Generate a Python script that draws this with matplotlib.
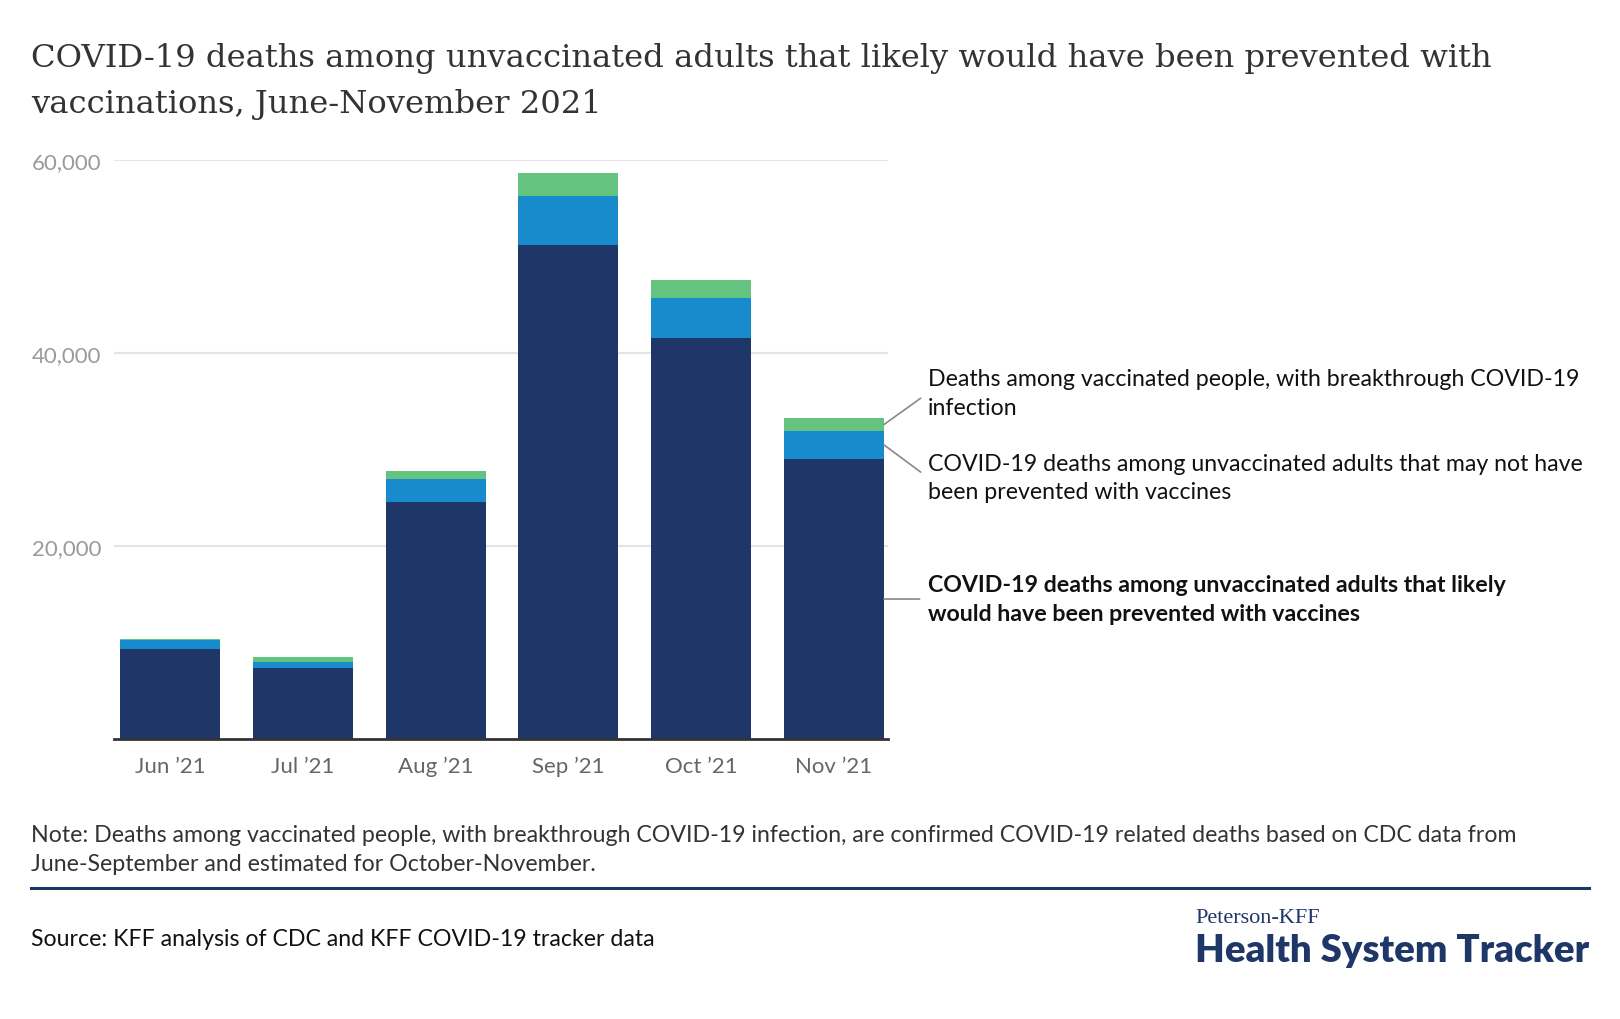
"""KFF chart: COVID-19 deaths among unvaccinated adults likely preventable with vaccination."""

import matplotlib.pyplot as plt
import numpy as np

months = ["Jun \u201921", "Jul \u201921", "Aug \u201921", "Sep \u201921", "Oct \u201921", "Nov \u201921"]
likely_prevented = [9330, 7370, 24560, 51160, 41540, 29020]
may_not_prevented = [980, 610, 2370, 5080, 4130, 2900]
vaccinated_deaths = [80, 570, 820, 2370, 1840, 1310]

series_labels = [
    "COVID-19 deaths among unvaccinated adults that likely\nwould have been prevented with vaccines",
    "COVID-19 deaths among unvaccinated adults that may not have\nbeen prevented with vaccines",
    "Deaths among vaccinated people, with breakthrough COVID-19\ninfection",
]
y_ticks = [20000, 40000, 60000]

NAVY = "#1f3668"
BLUE = "#178bcc"
GREEN = "#64c47f"
SANS = ["Lato", "DejaVu Sans"]
BODY = 16.7

W, H = 1620, 1020
fig = plt.figure(figsize=(W / 100, H / 100), dpi=100)
ax = fig.add_axes([113.8 / W, 1 - 740.2 / H, (888 - 113.8) / W, (740.2 - 160.6) / H])

x = np.arange(len(months))
bw = 0.753
lk = np.array(likely_prevented)
mn = np.array(may_not_prevented)
vc = np.array(vaccinated_deaths)
ax.bar(x, lk, width=bw, color=NAVY, zorder=2)
ax.bar(x, mn, width=bw, bottom=lk, color=BLUE, zorder=2)
ax.bar(x, vc, width=bw, bottom=lk + mn, color=GREEN, zorder=2, clip_on=False)

ax.set_xlim(-0.423, 5.407)
ax.set_ylim(0, 60000)
ax.set_yticks(y_ticks)
ax.set_yticklabels([f"{v:,}" for v in y_ticks], fontfamily=SANS, fontsize=16, color="#9a9a9a")
ax.set_xticks(x)
ax.set_xticklabels(months, fontfamily=SANS, fontsize=16, color="#666666")
ax.tick_params(axis="both", length=0)
ax.tick_params(axis="y", pad=9)
ax.tick_params(axis="x", pad=12)
ax.grid(axis="y", color="#e4e4e4", linewidth=1.5, zorder=0)
for s in ["top", "right", "left"]:
    ax.spines[s].set_visible(False)
ax.spines["bottom"].set_color("#333333")
ax.spines["bottom"].set_linewidth(2)
ax.spines["bottom"].set_zorder(3)

# labels for the last bar, connected with thin grey lines
last = len(months) - 1
edge = last + bw / 2
mids = [lk[last] / 2, lk[last] + mn[last] / 2, lk[last] + mn[last] + vc[last] / 2]
dys = [0, -23.5, 22.7]
for lab, mid, dy, bold in zip(series_labels, mids, dys, [True, False, False]):
    ax.annotate(lab, xy=(edge, mid), xytext=(31.7, dy), textcoords="offset points",
                ha="left", va="center", fontfamily=SANS, fontsize=BODY, linespacing=1.42,
                fontweight="bold" if bold else "normal", color="#111111", annotation_clip=False,
                arrowprops=dict(arrowstyle="-", color="#888888", lw=1.2, shrinkA=4, shrinkB=0,
                                relpos=(0, 0.5)))

fig.text(31 / W, 1 - 66.7 / H, "COVID-19 deaths among unvaccinated adults that likely would have been prevented with",
         fontfamily="DejaVu Serif", fontsize=23.2, color="#333333", va="baseline")
fig.text(31 / W, 1 - 113 / H, "vaccinations, June-November 2021",
         fontfamily="DejaVu Serif", fontsize=23.2, color="#333333", va="baseline")

fig.text(31 / W, 1 - 850 / H,
         "Note: Deaths among vaccinated people, with breakthrough COVID-19 infection, are confirmed COVID-19 related deaths based on CDC data from\n"
         "June-September and estimated for October-November.",
         fontfamily=SANS, fontsize=BODY, color="#333333", va="center", linespacing=1.42)
fig.add_artist(plt.Line2D([31 / W, 1589 / W], [1 - 888.5 / H] * 2, color=NAVY, linewidth=2.2))
fig.text(31 / W, 1 - 940 / H, "Source: KFF analysis of CDC and KFF COVID-19 tracker data",
         fontfamily=SANS, fontsize=BODY, color="#111111", va="center")

fig.text(1195 / W, 1 - 919 / H, "Peterson-KFF", fontfamily="Liberation Serif", fontsize=16,
         color=NAVY, va="center")
fig.text(1195 / W, 1 - 951 / H, "Health System Tracker", fontfamily=SANS, fontsize=27.5,
         fontweight="heavy", color=NAVY, va="center")

fig.savefig("out.png", dpi=100)
